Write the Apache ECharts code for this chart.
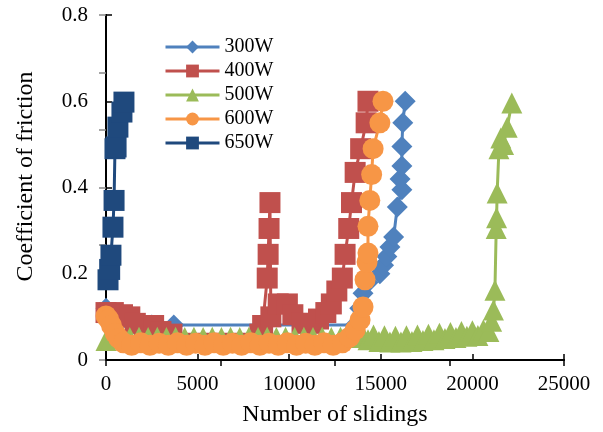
<!DOCTYPE html>
<html>
<head>
<meta charset="utf-8">
<script src="https://cdn.jsdelivr.net/npm/echarts@6/dist/echarts.min.js"></script>
<style>
    html, body { margin: 0; padding: 0; background: #fff; }
    #chart { width: 603px; height: 432px; }
</style>
</head>
<body>
<div id="chart"></div>
<script>
// sliding count / friction pairs
const seriesNames = ['300W', '400W', '500W', '600W', '650W'];
const seriesColors = ['#4f81bd', '#c0504d', '#9bbb59', '#f79646', '#1f497d'];
const seriesSymbols = ['diamond', 'rect', 'triangle', 'circle', 'rect'];

const w300 = [
    [0, 0.12], [300, 0.1], [800, 0.09], [1500, 0.085], [2500, 0.081], [3700, 0.081],
    [13600, 0.081], [13850, 0.12], [14030, 0.155], [14300, 0.18], [14950, 0.2], [15150, 0.22],
    [15330, 0.24], [15500, 0.262], [15700, 0.285], [15900, 0.355], [16150, 0.395], [16050, 0.42],
    [16150, 0.45], [16150, 0.495], [16200, 0.55], [16330, 0.6]
];
const w400 = [
    [0, 0.11], [400, 0.11], [900, 0.105], [1300, 0.1], [1600, 0.085], [2100, 0.08],
    [2600, 0.08], [3000, 0.066], [3600, 0.06], [8400, 0.06], [8550, 0.08], [8800, 0.19],
    [8850, 0.245], [8900, 0.305], [8950, 0.365], [9000, 0.1], [9400, 0.13], [9900, 0.13],
    [10200, 0.105], [10700, 0.085], [11200, 0.085], [11600, 0.095], [12000, 0.11], [12300, 0.13],
    [12600, 0.16], [12900, 0.19], [13050, 0.245], [13250, 0.305], [13400, 0.365], [13600, 0.435],
    [13900, 0.49], [14200, 0.55], [14300, 0.6]
];
const w500 = [
    [0, 0.045], [300, 0.05], [800, 0.053], [1300, 0.052], [1800, 0.053], [2300, 0.052],
    [2800, 0.053], [3300, 0.052], [3800, 0.053], [4300, 0.052], [4800, 0.053], [5300, 0.052],
    [5800, 0.053], [6300, 0.052], [6800, 0.053], [7300, 0.052], [7800, 0.053], [8300, 0.052],
    [8800, 0.053], [9300, 0.052], [9800, 0.053], [10300, 0.052], [10800, 0.053], [11300, 0.052],
    [11800, 0.053], [12300, 0.052], [12800, 0.053], [13300, 0.052], [13700, 0.053],
    [14000, 0.058], [14300, 0.047], [14600, 0.058], [14900, 0.043], [15200, 0.056], [15500, 0.042],
    [15800, 0.055], [16100, 0.042], [16400, 0.056], [16700, 0.043], [17000, 0.058], [17300, 0.045],
    [17600, 0.06], [17900, 0.047], [18200, 0.062], [18500, 0.05], [18800, 0.064], [19100, 0.052],
    [19400, 0.066], [19700, 0.055], [20000, 0.068], [20300, 0.057], [20600, 0.07], [20900, 0.066],
    [21050, 0.09], [21150, 0.116], [21230, 0.162], [21300, 0.305], [21320, 0.33], [21350, 0.387],
    [21450, 0.49], [21550, 0.515], [21700, 0.5], [21900, 0.54], [22150, 0.596]
];
const w600 = [
    [0, 0.102], [150, 0.094], [300, 0.08], [500, 0.062], [700, 0.05], [950, 0.04],
    [1400, 0.034], [1900, 0.04], [2400, 0.034], [2900, 0.039], [3400, 0.034], [3900, 0.04],
    [4400, 0.034], [4900, 0.039], [5400, 0.034], [5900, 0.04], [6400, 0.034], [6900, 0.039],
    [7400, 0.034], [7900, 0.04], [8400, 0.034], [8900, 0.039], [9400, 0.034], [9900, 0.04],
    [10400, 0.034], [10900, 0.039], [11400, 0.034], [11900, 0.04], [12400, 0.034], [12900, 0.04],
    [13300, 0.053], [13600, 0.07], [13870, 0.093], [14030, 0.123], [14140, 0.186], [14250, 0.227],
    [14300, 0.248], [14300, 0.31], [14400, 0.37], [14500, 0.43], [14580, 0.49], [14950, 0.55],
    [15120, 0.6]
];
const w650 = [
    [110, 0.186], [200, 0.21], [270, 0.243], [380, 0.308], [440, 0.37],
    [490, 0.49], [550, 0.494], [650, 0.54], [870, 0.575], [980, 0.598]
];
const allData = [w300, w400, w500, w600, w650];

const xTicks = { min: 0, max: 25000, step: 5000 };
const yTicks = { min: 0, max: 0.8, step: 0.2 };

const font = "'Liberation Serif', 'Times New Roman', Times, serif";
const chart = echarts.init(document.getElementById('chart'));

const option = {
    animation: false,
    grid: { left: 106, right: 39, top: 15, bottom: 72 },
    legend: {
        orient: 'vertical',
        left: 159,
        top: 32,
        itemWidth: 54,
        itemHeight: 16,
        itemGap: 4,
        lineStyle: { width: 3 },
        textStyle: { fontFamily: font, fontSize: 20, color: '#000', lineHeight: 20 },
        data: seriesNames
    },
    xAxis: [
        {
            type: 'value',
            min: xTicks.min,
            max: xTicks.max,
            interval: xTicks.step,
            name: 'Number of slidings',
            nameLocation: 'middle',
            nameGap: 43,
            nameTextStyle: { fontFamily: font, fontSize: 24, color: '#000' },
            axisLine: { lineStyle: { color: '#000', width: 2 } },
            axisTick: { inside: true, length: 6, lineStyle: { color: '#000', width: 1.5 } },
            axisLabel: { fontFamily: font, fontSize: 21, color: '#000', margin: 14, formatter: v => String(v) },
            splitLine: { show: false }
        },
        {
            // top border with its own ticks
            type: 'value',
            position: 'top',
            min: 0,
            max: 4,
            interval: 1,
            axisLine: { show: true, lineStyle: { color: '#000', width: 2 } },
            axisTick: { show: true, inside: true, length: 6, lineStyle: { color: '#000', width: 1.5 } },
            axisLabel: { show: false },
            splitLine: { show: false }
        }
    ],
    yAxis: [
        {
            type: 'value',
            min: yTicks.min,
            max: yTicks.max,
            interval: yTicks.step,
            name: 'Coefficient of friction',
            nameLocation: 'middle',
            nameGap: 68,
            nameTextStyle: { fontFamily: font, fontSize: 24, color: '#000', padding: [0, 0, 0, 22] },
            axisLine: { show: true, lineStyle: { color: '#000', width: 2 } },
            axisTick: { show: true, inside: true, length: 6, lineStyle: { color: '#000', width: 1.5 } },
            axisLabel: { fontFamily: font, fontSize: 21, color: '#000', margin: 18 },
            splitLine: { show: false }
        },
        {
            // right border, grey ticks
            type: 'value',
            position: 'right',
            min: 0,
            max: 6,
            interval: 1,
            axisLine: { show: true, lineStyle: { color: '#000', width: 2 } },
            axisTick: { show: true, inside: true, length: 7, lineStyle: { color: '#888', width: 1.5 } },
            axisLabel: { show: false },
            splitLine: { show: false }
        }
    ],
    series: seriesNames.map((name, i) => ({
        name: name,
        type: 'line',
        xAxisIndex: 0,
        yAxisIndex: 0,
        data: allData[i],
        symbol: seriesSymbols[i],
        symbolSize: 21,
        showAllSymbol: true,
        color: seriesColors[i],
        lineStyle: { width: 3, color: seriesColors[i] },
        itemStyle: { color: seriesColors[i] }
    }))
};

chart.setOption(option);
</script>
</body>
</html>
